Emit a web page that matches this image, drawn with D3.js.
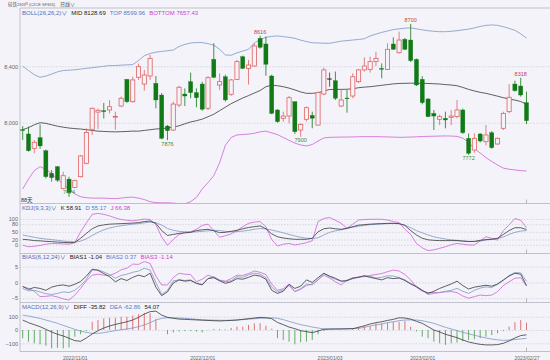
<!DOCTYPE html>
<html>
<head>
<meta charset="utf-8">
<script src="https://cdn.jsdelivr.net/npm/d3@7"></script>
<style>
  body { margin: 0; background: #f3f3f9; }
  svg { display: block; font-family: "Liberation Sans", "Noto Sans CJK SC", sans-serif; }
</style>
</head>
<body>
<div id="chart"></div>
<script>
// trading days shown (88)
const dates = [
  "2022-10-19","2022-10-20","2022-10-21","2022-10-24","2022-10-25","2022-10-26","2022-10-27","2022-10-28","2022-10-31",
  "2022-11-01","2022-11-02","2022-11-03","2022-11-04","2022-11-07","2022-11-08","2022-11-09","2022-11-10","2022-11-11",
  "2022-11-14","2022-11-15","2022-11-16","2022-11-17","2022-11-18","2022-11-21","2022-11-22","2022-11-23","2022-11-24",
  "2022-11-25","2022-11-28","2022-11-29","2022-11-30",
  "2022-12-01","2022-12-02","2022-12-05","2022-12-06","2022-12-07","2022-12-08","2022-12-09","2022-12-12","2022-12-13",
  "2022-12-14","2022-12-15","2022-12-16","2022-12-19","2022-12-20","2022-12-21","2022-12-22","2022-12-23","2022-12-26",
  "2022-12-27","2022-12-28","2022-12-29","2022-12-30",
  "2023-01-03","2023-01-04","2023-01-05","2023-01-06","2023-01-09","2023-01-10","2023-01-11","2023-01-12","2023-01-13",
  "2023-01-16","2023-01-17","2023-01-18","2023-01-19","2023-01-20","2023-01-30","2023-01-31",
  "2023-02-01","2023-02-02","2023-02-03","2023-02-06","2023-02-07","2023-02-08","2023-02-09","2023-02-10","2023-02-13",
  "2023-02-14","2023-02-15","2023-02-16","2023-02-17","2023-02-20","2023-02-21","2023-02-22","2023-02-23","2023-02-24",
  "2023-02-27"
];

const open = [7950,7920,7818,7894,7801,7641,7688,7534,7600,7541,
  7617,7712,7953,8075,8085,8090,8040,8118,8307,8149,
  8322,8274,8331,8279,8196,7976,7948,8125,8203,8291,
  8213,8274,8102,8449,8267,8326,8201,8307,8468,8385,
  8402,8598,8558,8331,8090,8031,8047,8149,7948,8024,
  8052,7983,8203,8312,8298,8118,8175,8189,8291,8374,
  8378,8433,8385,8378,8558,8496,8591,8586,8449,8307,
  8168,8066,8024,8031,8038,8043,8090,7889,7806,7920,
  7865,7929,7849,7960,8078,8274,8260,8142];
const high = [7975,7972,7877,7988,7810,7664,7693,7652,7617,7595,
  7771,7960,8107,8100,8140,8160,8078,8185,8310,8326,
  8420,8374,8480,8331,8210,7983,8150,8262,8243,8355,
  8243,8290,8330,8563,8350,8340,8310,8445,8475,8445,
  8563,8616,8610,8340,8095,8078,8189,8150,7995,8115,
  8078,8220,8390,8355,8362,8232,8232,8350,8380,8463,
  8468,8503,8420,8563,8605,8645,8600,8700,8455,8330,
  8175,8090,8057,8078,8090,8161,8100,7924,7924,7925,
  7983,7940,7895,8078,8274,8298,8318,8220];
const low = [7878,7795,7783,7815,7605,7582,7580,7527,7474,7536,
  7612,7705,7913,7955,8030,8066,7950,8110,8140,8142,
  8303,8227,8303,8102,7882,7876,7940,8110,8118,8173,
  8109,8085,8090,8315,8232,8150,8190,8303,8380,8270,
  8397,8525,8333,8060,8000,8007,7995,7920,7900,8010,
  7960,7980,8195,8255,8161,8110,8071,8173,8280,8362,
  8355,8402,8315,8374,8515,8490,8515,8430,8260,8130,
  8040,7948,7983,7960,7983,8031,7920,7772,7787,7860,
  7840,7815,7842,7948,8066,8220,8185,7990];
const close = [7948,7801,7861,7835,7617,7610,7593,7624,7504,7589,
  7764,7931,8102,8088,8078,8113,8045,8173,8149,8303,
  8397,8338,8456,8161,7889,7943,8132,8251,8189,8213,
  8177,8095,8319,8322,8291,8161,8303,8433,8385,8409,
  8544,8534,8414,8066,8007,8047,8177,7936,7988,8106,
  8031,8213,8374,8312,8173,8161,8170,8326,8374,8402,
  8433,8456,8378,8520,8520,8586,8520,8440,8267,8142,
  8043,8047,8043,8019,8047,8090,7929,7783,7889,7870,
  7913,7823,7889,8066,8180,8227,8196,8014];

// BOLL(26,26,2)
const bollMid = [7950,7965,7985,8000,7995,7985,7975,7968,7962,7958,
  7955,7950,7945,7940,7938,7936,7935,7936,7938,7940,
  7940,7945,7950,7955,7958,7962,7968,7978,7992,8005,
  8014,8025,8042,8060,8085,8110,8135,8155,8175,8192,
  8210,8228,8255,8266,8262,8255,8245,8232,8218,8208,
  8208,8212,8225,8235,8236,8236,8237,8240,8248,8252,
  8255,8260,8265,8270,8275,8278,8279,8280,8280,8279,
  8278,8276,8274,8270,8267,8262,8250,8236,8225,8215,
  8208,8198,8188,8177,8168,8160,8150,8130];
const bollTop = [8400,8370,8340,8322,8330,8345,8360,8370,8372,8375,
  8380,8385,8390,8395,8400,8405,8405,8408,8410,8412,
  8440,8475,8490,8500,8505,8510,8515,8540,8555,8565,
  8568,8568,8560,8550,8520,8480,8478,8495,8508,8520,
  8565,8590,8605,8612,8615,8610,8605,8598,8585,8575,
  8567,8565,8563,8563,8570,8578,8582,8586,8590,8595,
  8615,8628,8640,8650,8660,8665,8670,8672,8665,8658,
  8652,8648,8645,8645,8648,8652,8658,8663,8672,8682,
  8690,8693,8690,8680,8668,8655,8630,8600];
const bollBottom = [7530,7600,7660,7688,7670,7640,7600,7565,7530,7495,
  7475,7468,7465,7465,7465,7463,7462,7465,7470,7472,
  7465,7455,7440,7433,7432,7432,7430,7425,7425,7440,
  7470,7530,7575,7625,7715,7840,7895,7913,7916,7919,
  7925,7935,7940,7928,7915,7895,7875,7855,7842,7835,
  7845,7870,7892,7896,7897,7898,7898,7899,7900,7901,
  7901,7901,7900,7899,7898,7896,7897,7898,7900,7902,
  7903,7904,7905,7906,7905,7903,7890,7860,7815,7785,
  7752,7725,7700,7678,7670,7665,7660,7657];

// KDJ(9,3,3)
const kLine = [21,19,16,15,13,12,10,9,8,9,
  25,44,62,73,77,80,81,82,83,84,
  86,90,92,83,55,36,40,44,46,48,
  55,58,60,54,47,48,52,56,62,67,
  70,73,62,42,31,26,23,21,21,21,
  25,50,62,65,62,60,64,70,76,78,
  80,81,82,83,83,82,75,55,38,25,
  19,17,16,16,16,16,14,12,13,17,
  20,21,25,40,55,66,66,59];
const dLine = [38,33,29,25,22,20,17,14,12,10,
  14,23,36,48,58,65,70,74,77,80,
  82,85,88,86,76,63,56,52,50,49,
  50,52,54,56,55,52,50,51,53,56,
  60,63,61,57,52,46,40,34,29,25,
  24,27,38,48,54,58,63,68,72,75,
  78,80,81,82,83,82,76,66,55,46,
  38,31,26,22,19,17,15,13,12,14,
  18,21,24,30,40,48,53,55];
const jLine = [-2,-8,-6,-3,2,5,4,3,2,8,
  50,85,118,122,118,112,104,98,95,93,
  96,100,98,78,30,-2,20,40,48,50,
  60,75,80,55,29,35,42,55,70,83,
  88,90,70,20,-5,2,5,-1,3,8,
  15,90,102,106,95,83,64,80,96,98,
  99,99,99,96,90,86,60,40,5,-12,
  -23,-20,-14,-8,0,5,2,-1,-1,15,
  31,25,18,55,77,102,95,66];

// BIAS(6,12,24)
const bias1 = [-1.3,-2.2,-1.6,-1.9,-2.5,-1.5,-1.0,-0.8,-1.2,-0.6,
  0.3,2.0,4.2,3.8,2.8,1.8,0.2,1.2,0.6,1.6,
  2.3,1.8,2.9,-1.5,-4.2,-3.0,-0.2,0.8,0.4,0.6,
  -0.3,-0.8,1.2,1.5,0.5,-0.3,0.2,1.2,1.0,1.6,
  2.3,2.0,1.0,-2.5,-3.5,-2.8,-0.6,-1.9,-1.2,0.8,
  0.0,1.5,2.9,2.0,1.3,0.4,0.5,1.3,1.6,2.1,
  1.6,1.2,0.8,1.5,1.2,1.4,0.6,-0.5,-1.4,-2.5,
  -3.5,-2.8,-1.9,-1.2,-0.5,0.4,-1.0,-2.1,-1.5,-1.2,
  -0.9,-1.2,-0.5,0.8,2.0,2.9,2.6,-1.04];
const bias2 = [-1.9,-2.7,-2.5,-3.0,-3.6,-3.8,-3.5,-3.0,-3.2,-2.5,
  -1.0,1.0,3.9,4.0,3.3,2.5,1.3,2.2,2.6,3.2,
  3.6,4.5,3.9,0.0,-3.8,-2.5,0.5,0.8,0.6,0.8,
  -0.3,-0.6,1.2,1.8,0.8,0.2,0.5,1.8,1.6,2.4,
  2.9,2.6,1.5,-1.5,-3.0,-2.4,-1.0,-2.9,-2.0,-0.5,
  -0.8,0.8,2.8,1.8,1.0,0.4,0.6,1.5,1.6,2.1,
  1.9,1.4,1.6,2.1,2.0,1.5,0.8,-0.3,-1.2,-2.5,
  -3.8,-3.5,-3.2,-2.8,-2.5,-1.9,-2.8,-3.5,-2.5,-1.8,
  -1.4,-1.6,-0.6,0.6,2.2,3.1,3.0,0.37];
const bias3 = [-1.3,-1.9,-2.8,-4.5,-4.4,-4.2,-4.6,-5.2,-5.6,-4.0,
  -1.9,0.5,2.3,2.6,2.3,2.2,2.9,4.0,4.5,5.8,
  5.7,6.6,6.0,2.0,-0.8,-0.8,1.5,2.9,2.6,2.5,
  0.2,1.0,2.3,1.6,0.6,0.4,1.2,2.3,2.2,2.8,
  3.6,3.2,2.5,-0.5,-2.5,-2.0,-0.6,-2.9,-2.2,-1.0,
  -0.5,0.8,2.3,1.4,0.2,-0.8,0.8,1.2,1.8,1.8,
  2.2,2.5,2.8,3.4,3.9,3.6,2.5,0.8,-1.5,-2.8,
  -3.2,-3.2,-3.2,-3.0,-2.9,-3.2,-4.3,-5.0,-4.5,-4.0,
  -4.2,-4.0,-2.9,-1.0,0.2,1.3,1.5,-1.14];

// MACD(12,26,9)
const macdDiff = [75,55,40,25,5,-15,-32,-45,-62,-80,
  -85,-60,-30,-5,15,30,42,52,62,75,
  95,120,138,142,112,95,88,82,80,78,
  76,74,72,70,68,70,72,75,80,85,
  90,95,92,85,57,40,22,10,-5,-12,
  -20,-8,5,7,8,8,9,10,20,32,
  45,55,62,72,80,92,90,82,65,50,
  25,0,-15,-32,-45,-58,-75,-90,-100,-108,
  -112,-112,-110,-100,-82,-60,-42,-35.82];
const macdDea = [112,105,96,87,75,63,50,35,20,5,
  -8,-18,-25,-25,-20,-12,-5,2,8,15,
  25,38,55,75,88,92,92,90,88,85,
  80,76,75,74,73,73,74,75,78,82,
  85,88,90,92,88,78,65,52,40,32,
  22,15,8,7,7,8,10,11,12,20,
  30,38,45,55,62,70,75,76,75,70,
  60,50,35,20,8,-5,-18,-28,-40,-50,
  -60,-68,-74,-78,-76,-72,-67,-62.86];
const macdBar = [-62,-88,-100,-108,-118,-138,-135,-138,-132,-50,
  -32,-8,62,75,88,92,92,100,100,108,
  118,125,125,82,0,-32,-18,-12,-8,-8,
  -12,-18,-2,8,8,5,15,25,25,38,
  50,50,32,10,-62,-75,-88,-108,-92,-88,
  -75,-32,-8,0,0,2,2,12,25,28,
  28,50,50,55,62,62,68,25,-10,-50,
  -62,-88,-100,-112,-100,-95,-85,-75,-70,-62,
  -50,-38,-25,-8,25,58,75,54.07];

// legend readouts
const bollLast = [8128.69, 8599.96, 7657.43];
const kdjLast = [58.91, 55.17, 66.38];
const biasLast = [-1.04, 0.37, -1.14];
const macdLast = [-35.82, -62.86, 54.07];

// axes
const dateTicks = ["2022-11-01","2022-12-01","2023-01-03","2023-02-01","2023-02-27"];
const priceTicks = [8000, 8400];
const kdjTicks = [0, 20, 50, 80, 100];
const biasTicks = [-5, 0, 5];
const macdTicks = [-100, 0, 100];

// marked extremes (candle index)
const peakIdx = [41, 67, 86];
const troughIdx = [8, 25, 48, 77];

const W = 550, H = 360, left = 20;
const bg = "#f3f3f9";
const upColor = "#e06262", downColor = "#117a17";
const midColor = "#3a3a3a", topColor = "#7f97c4", botColor = "#d062d6";
const fs = "5.5px", legendFs = "6px";

const svg = d3.select("#chart").append("svg").attr("width", W).attr("height", H);
svg.append("rect").attr("width", W).attr("height", H).attr("fill", bg);

const x = d3.scalePoint().domain(dates).range([22.7, 526.5]);
const bodyW = x.step() * 0.72;

function makePanel(id, top, bottom, domain, ticks) {
  const y = d3.scaleLinear().domain(domain).range([bottom, top]);
  svg.append("clipPath").attr("id", id)
    .append("rect").attr("x", left).attr("y", top).attr("width", W - left).attr("height", bottom - top);

  const grid = svg.append("g").attr("transform", `translate(${left},0)`)
    .call(d3.axisLeft(y).tickValues(ticks).tickSize(-(W - left)).tickFormat(""));
  grid.select(".domain").remove();
  grid.selectAll("line").attr("stroke", "#c4c4d2").attr("stroke-dasharray", "1.5,1.5").attr("stroke-width", 0.6);

  const ax = svg.append("g").attr("transform", `translate(${left - 2},0)`)
    .call(d3.axisLeft(y).tickValues(ticks).tickSize(0).tickPadding(0));
  ax.attr("font-size", null).attr("font-family", null);
  ax.select(".domain").remove();
  ax.selectAll("text").attr("fill", "#666").style("font-size", fs);

  svg.append("line").attr("x1", left).attr("x2", W).attr("y1", bottom).attr("y2", bottom)
    .attr("stroke", "#b4b4c2").attr("stroke-width", 0.8);
  // cursor tick at last candle
  svg.append("line").attr("x1", x(dates[dates.length - 1])).attr("x2", x(dates[dates.length - 1]))
    .attr("y1", bottom - 4).attr("y2", bottom).attr("stroke", "#999").attr("stroke-width", 0.7);
  return y;
}

function drawLine(y, values, color, clip) {
  svg.append("path")
    .datum(values)
    .attr("clip-path", `url(#${clip})`)
    .attr("fill", "none")
    .attr("stroke", color)
    .attr("stroke-width", 0.8)
    .attr("d", d3.line().x((d, i) => x(dates[i])).y(d => y(d)));
}

function legend(yPos, items) {
  let xPos = 22;
  items.forEach(([t, c]) => {
    const el = svg.append("text").attr("x", xPos).attr("y", yPos)
      .attr("fill", c).style("font-size", legendFs).text(t);
    xPos += el.node().getComputedTextLength() + 4;
  });
}

// frame: title bar and left axis line
svg.append("line").attr("x1", left).attr("x2", W).attr("y1", 8).attr("y2", 8).attr("stroke", "#b4b4c2").attr("stroke-width", 0.8);
svg.append("line").attr("x1", left).attr("x2", left).attr("y1", 8).attr("y2", 351.5).attr("stroke", "#b4b4c2").attr("stroke-width", 0.8);

const title = svg.append("text").attr("x", 8).attr("y", 5.6).attr("fill", "#555")
  .style("font-size", "5px").attr("textLength", 47).attr("lengthAdjust", "spacingAndGlyphs");
title.append("tspan").text("硅铁");
title.append("tspan").style("font-size", "4.2px").text("2305");
title.append("tspan").attr("fill", "#d04040").style("font-size", "3.4px").attr("dy", -1).text("M");
title.append("tspan").attr("dy", 1).style("font-size", "4.4px").text(" (CZCE SF305)");
svg.append("text").attr("x", 60).attr("y", 5.6).attr("fill", "#555").style("font-size", "5px").text("日线∨");

// ---- main panel: candles + BOLL
const yMain = makePanel("clipMain", 8, 203.5, [7427, 8813], priceTicks);

drawLine(yMain, bollTop, topColor, "clipMain");
drawLine(yMain, bollBottom, botColor, "clipMain");
drawLine(yMain, bollMid, midColor, "clipMain");

const candles = svg.append("g").attr("clip-path", "url(#clipMain)");
dates.forEach((d, i) => {
  const up = close[i] > open[i];
  const flat = close[i] === open[i];
  const c = flat ? "#333" : (up ? upColor : downColor);
  const cx = x(d);
  candles.append("line").attr("x1", cx).attr("x2", cx)
    .attr("y1", yMain(high[i])).attr("y2", yMain(low[i]))
    .attr("stroke", c).attr("stroke-width", 0.8);
  const yt = yMain(Math.max(open[i], close[i]));
  const yb = yMain(Math.min(open[i], close[i]));
  candles.append("rect")
    .attr("x", cx - bodyW / 2).attr("y", yt)
    .attr("width", bodyW).attr("height", Math.max(0.8, yb - yt))
    .attr("fill", up ? bg : c)
    .attr("stroke", c).attr("stroke-width", up ? 0.8 : 0.3);
});

peakIdx.forEach(i => {
  svg.append("text").attr("x", x(dates[i])).attr("y", yMain(high[i]) - 1.5)
    .attr("text-anchor", "middle").attr("fill", "#c9413d").style("font-size", fs).text(high[i]);
});
troughIdx.forEach(i => {
  svg.append("text").attr("x", x(dates[i])).attr("y", Math.min(yMain(low[i]) + 5.5, 194))
    .attr("text-anchor", "middle").attr("fill", "#3d8a3d").style("font-size", fs).text(low[i]);
});

svg.append("text").attr("x", 21).attr("y", 201.5).attr("fill", "#334").style("font-size", fs).text(dates.length + "天");

legend(14.8, [
  ["BOLL(26,26,2)∨", "#4f6fb8"],
  ["MID " + bollLast[0].toFixed(2), "#222"],
  ["TOP " + bollLast[1].toFixed(2), "#4f7fd0"],
  ["BOTTOM " + bollLast[2].toFixed(2), "#d040d0"]
]);

// ---- KDJ
const yK = makePanel("clipK", 203.5, 253.5, [-34.2, 160.3], kdjTicks);
drawLine(yK, dLine, topColor, "clipK");
drawLine(yK, jLine, botColor, "clipK");
drawLine(yK, kLine, midColor, "clipK");
legend(209.5, [
  ["KDJ(9,3,3)∨", "#4f6fb8"],
  ["K " + kdjLast[0].toFixed(2), "#222"],
  ["D " + kdjLast[1].toFixed(2), "#4f7fd0"],
  ["J " + kdjLast[2].toFixed(2), "#d040d0"]
]);

// ---- BIAS
const yB = makePanel("clipB", 253.5, 302.5, [-6.36, 9.15], biasTicks);
drawLine(yB, bias3, botColor, "clipB");
drawLine(yB, bias2, topColor, "clipB");
drawLine(yB, bias1, midColor, "clipB");
legend(259, [
  ["BIAS(6,12,24)∨", "#4f6fb8"],
  ["BIAS1 " + biasLast[0].toFixed(2), "#222"],
  ["BIAS2 " + biasLast[1].toFixed(2), "#4f7fd0"],
  ["BIAS3 " + biasLast[2].toFixed(2), "#d040d0"]
]);

// ---- MACD
const yM = makePanel("clipM", 302.5, 351.5, [-161.7, 206.8], macdTicks);
svg.append("g").attr("clip-path", "url(#clipM)")
  .selectAll("line").data(macdBar).join("line")
  .attr("x1", (d, i) => x(dates[i])).attr("x2", (d, i) => x(dates[i]))
  .attr("y1", yM(0)).attr("y2", d => yM(d))
  .attr("stroke", d => d >= 0 ? "#d9534f" : "#3f9a3f").attr("stroke-width", 0.8);
drawLine(yM, macdDea, topColor, "clipM");
drawLine(yM, macdDiff, midColor, "clipM");
legend(308.9, [
  ["MACD(12,26,9)∨", "#4f6fb8"],
  ["DIFF " + macdLast[0].toFixed(2), "#222"],
  ["DEA " + macdLast[1].toFixed(2), "#4f7fd0"],
  [macdLast[2].toFixed(2), "#222"]
]);

// ---- date axis
const xa = svg.append("g").attr("transform", "translate(0,351.5)")
  .call(d3.axisBottom(x).tickValues(dateTicks).tickSize(0).tickPadding(5)
    .tickFormat(d => d.replace(/-/g, "/")));
xa.attr("font-size", null).attr("font-family", null);
xa.select(".domain").remove();
xa.selectAll("text").attr("fill", "#666").style("font-size", "5px");
</script>
</body>
</html>
